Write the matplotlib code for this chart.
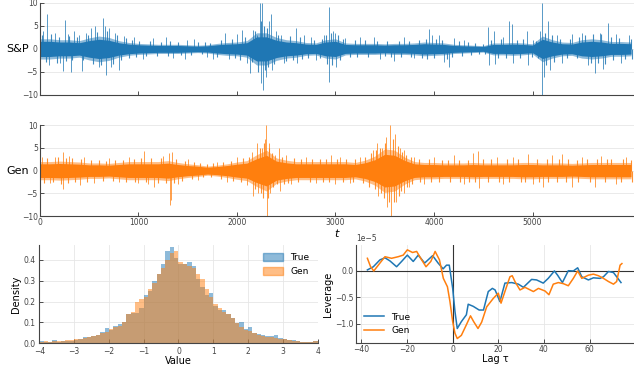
#!/usr/bin/env python3

import numpy as np
import matplotlib
matplotlib.use("Agg")
import matplotlib.pyplot as plt
from matplotlib.patches import Patch

BLUE = "#1f77b4"
ORANGE = "#ff7f0e"

# dense band half-width of each series, read every 100 steps (t = 0 .. 6000)
core_t = list(range(0, 6001, 100))
sp_core = [2.2, 2.2, 2.0, 2.0, 1.8, 2.4, 2.8, 2.5, 1.8, 1.4,
           1.2, 1.1, 1.0, 1.0, 1.0, 0.9, 0.8, 0.9, 1.2, 1.4,
           1.5, 1.8, 3.5, 3.5, 2.5, 2.0, 1.8, 1.4, 1.3, 2.0,
           2.2, 1.3, 1.2, 1.2, 1.2, 1.1, 1.2, 1.2, 1.3, 1.5,
           1.4, 1.3, 1.0, 0.9, 0.8, 0.7, 1.3, 1.3, 1.4, 1.3,
           1.1, 2.8, 2.0, 1.5, 1.4, 2.0, 2.2, 2.0, 1.6, 1.6, 1.5]
gen_core = [2.0, 2.0, 2.1, 2.0, 1.9, 1.7, 1.7, 1.6, 1.8, 2.0,
            2.0, 2.0, 2.0, 2.2, 1.8, 1.5, 1.3, 1.0, 1.2, 1.5,
            1.9, 2.2, 3.5, 4.5, 2.8, 2.3, 2.0, 2.0, 2.0, 2.0,
            2.0, 2.0, 1.8, 2.3, 3.2, 4.8, 4.5, 3.0, 2.0, 1.8,
            1.8, 1.7, 1.7, 1.7, 1.8, 1.7, 1.7, 1.7, 1.7, 1.8,
            1.8, 1.7, 1.7, 1.7, 1.6, 1.7, 1.8, 1.8, 1.8, 1.8, 1.8]

# isolated spikes (time, value)
sp_spike_t = [30, 71, 90, 150, 200, 230, 250, 280, 316, 350, 400, 426, 470, 520,
              560, 600, 643, 660, 670, 700, 720, 760, 802, 850, 950, 1050, 1150,
              1280, 1350, 1468, 1490, 1560, 1700, 1760, 1880, 1920, 2000, 2050,
              2100, 2130, 2160, 2200, 2230, 2245, 2255, 2265, 2290, 2320, 2345,
              2360, 2400, 2450, 2480, 2600, 2610, 2680, 2750, 2800, 2880, 2930,
              2935, 2970, 3000, 3010, 3100, 3250, 3390, 3450, 3593, 3700, 3800,
              3948, 3980, 4050, 4100, 4151, 4200, 4300, 4547, 4560, 4608, 4620,
              4700, 4760, 4790, 4800, 4943, 4950, 5000, 5080, 5095, 5100, 5115,
              5160, 5180, 5250, 5300, 5400, 5500, 5560, 5633, 5680, 5720, 5765,
              5850, 5900, 5980]
sp_spike_v = [4.0, 7.5, -3.5, 3.5, -3.0, -4.7, 6.2, 3.2, -5.0, 4.0, 3.0, -4.8, 3.5, 4.5,
              5.0, -4.0, 6.8, 5.0, -5.6, 4.5, -4.0, 3.5, -4.5, 2.8, 2.5, -2.2, 2.3,
              2.5, -2.0, -2.2, 2.0, 2.2, -1.8, -2.3, 3.4, -2.3, 3.2, 4.2,
              -3.0, -5.2, 4.2, 3.0, 10.0, -7.5, 10.0, -9.0, -6.0, 6.0, 7.5,
              -4.5, 4.0, 3.0, -3.0, 4.5, -3.0, 3.0, 2.5, -2.5, 3.0, 9.2,
              -7.3, 4.0, 3.5, -3.9, 2.3, 2.5, 2.5, -2.2, -2.7, 2.5, -2.0,
              4.3, 3.0, 3.0, -2.8, -4.0, 2.3, 2.0, 4.7, -3.5, 3.8, -3.3,
              2.5, 6.0, 5.5, -3.0, 4.0, -3.5, 2.0, 4.0, 10.0, -10.0, -6.0,
              6.0, -4.5, 3.0, -3.0, 3.2, 3.5, -3.5, -5.2, 3.5, -4.3, 5.7,
              3.3, -3.0, 3.0]
# smaller excursions along the edge of the band
sp_fringe_t = [20, 60, 110, 170, 190, 260, 300, 330, 380, 440, 490, 540, 580, 620,
               680, 740, 780, 820, 870, 900, 930, 980, 1010, 1080, 1120, 1190, 1230,
               1300, 1320, 1400, 1430, 1530, 1600, 1640, 1680, 1730, 1800, 1840,
               1950, 1980, 2030, 2080, 2150, 2180, 2210, 2240, 2270, 2280, 2300,
               2310, 2380, 2420, 2500, 2540, 2570, 2640, 2660, 2720, 2780, 2840,
               2860, 2900, 2910, 2950, 2960, 3030, 3050, 3080, 3150, 3200, 3220,
               3300, 3330, 3420, 3500, 3520, 3560, 3640, 3660, 3750, 3770, 3850,
               3880, 3920, 3930, 4000, 4020, 4080, 4130, 4180, 4250, 4280, 4350,
               4380, 4420, 4460, 4500, 4520, 4580, 4650, 4680, 4730, 4840, 4870,
               4900, 4990, 5040, 5060, 5130, 5140, 5200, 5220, 5280, 5350, 5380,
               5450, 5470, 5530, 5590, 5610, 5660, 5700, 5740, 5800, 5820, 5880,
               5940, 6000, 6010]
sp_fringe_v = [3.0, -2.8, 3.2, -3.0, 2.6, -2.6, 2.8, -2.5, 2.5, -2.4, 3.0, -3.2, 3.6, -3.5,
               3.8, -3.2, 3.0, -2.5, 2.3, -2.0, 2.0, -1.8, 1.8, -1.6, 1.7, -1.5, 1.6,
               -1.5, 1.8, 1.5, -1.4, -1.3, 1.4, -1.2, 1.5, 1.3, -1.8, 2.0,
               2.2, -2.0, -2.4, 2.6, -2.8, 4.0, -5.0, 6.0, 5.0, -4.5, 4.5,
               -4.0, -3.2, 3.0, -2.7, 2.8, -2.4, 2.5, -2.2, -2.0, 2.0, -2.0,
               2.2, 3.0, -3.2, 3.5, -3.5, 3.0, -2.5, 2.2, -1.8, 2.0, -1.8,
               1.9, -1.7, 1.8, -1.6, 1.8, -1.7, 1.8, -1.7, 1.8, -1.8, 2.0,
               -2.0, 2.2, -2.2, -2.0, 2.2, 2.0, -2.2, -1.8, 1.7, -1.6, 1.4,
               -1.4, 1.2, -1.1, 1.0, -1.0, 2.0, -2.0, 2.2, -2.0, 2.0, -2.0,
               2.2, -1.8, 1.8, -2.0, 3.5, -3.5, 3.0, -2.8, 2.2, -2.0, 2.2,
               -2.0, 2.5, 3.0, -3.0, 3.2, -3.0, 3.2, -3.2, 2.5, -2.5, 2.4,
               -2.3, 2.2, -2.2]

gen_spike_t = [20, 100, 150, 230, 235, 300, 403, 450, 550, 700, 800, 900, 1000, 1056,
               1100, 1160, 1250, 1310, 1320, 1330, 1340, 1400, 1500, 1600, 1800,
               1900, 2000, 2100, 2150, 2160, 2200, 2215, 2250, 2280, 2296, 2300,
               2320, 2340, 2390, 2430, 2440, 2500, 2550, 2700, 2800, 2950, 3000,
               3050, 3150, 3250, 3380, 3421, 3430, 3470, 3510, 3520, 3555, 3565,
               3600, 3615, 3650, 3697, 3700, 3750, 3800, 3900, 4000, 4200, 4300,
               4400, 4446, 4460, 4640, 4700, 4800, 4955, 5000, 5105, 5200, 5300,
               5400, 5500, 5635, 5700, 5850, 5950]
gen_spike_v = [3.0, -2.8, 3.0, 4.0, -4.0, 3.2, -3.2, 3.0, -2.8, 2.8, -2.5, 3.0, -2.8, 4.3,
               -3.0, -3.5, 3.2, 3.8, -7.5, -6.5, 4.0, -3.0, 2.5, -2.0, 2.0,
               -2.5, 3.0, -3.2, 4.0, -5.5, 6.1, -5.0, 5.0, 7.0, 10.0, -10.0,
               6.0, -5.0, 3.5, 4.9, -4.5, 3.5, -3.0, 3.0, -2.8, 3.5, -3.0,
               3.0, -2.8, 3.0, 4.5, 6.0, -5.5, 5.0, 7.5, -8.0, 10.0, -10.0,
               8.0, -7.0, 5.0, 4.5, -5.0, -3.5, 3.0, -3.0, 3.0, 3.5, -3.0,
               3.8, 4.3, -3.9, 3.0, -3.0, 3.0, 3.7, -3.0, -3.7, 3.5, 3.7,
               -3.6, 3.0, -3.5, 3.3, -3.0, 3.0]
gen_fringe_t = [40, 70, 130, 180, 210, 260, 280, 330, 360, 420, 480, 520, 600, 640,
                670, 740, 760, 840, 870, 950, 960, 1030, 1080, 1130, 1200, 1230,
                1280, 1360, 1380, 1440, 1470, 1540, 1560, 1620, 1660, 1700, 1740,
                1760, 1840, 1860, 1940, 1960, 2040, 2060, 2120, 2180, 2230, 2240,
                2260, 2270, 2310, 2330, 2360, 2370, 2410, 2460, 2480, 2520, 2580,
                2620, 2650, 2740, 2760, 2840, 2870, 2900, 2930, 3020, 3080, 3110,
                3180, 3200, 3280, 3300, 3340, 3360, 3400, 3410, 3450, 3460, 3490,
                3500, 3540, 3580, 3590, 3630, 3640, 3670, 3680, 3720, 3730, 3770,
                3780, 3850, 3860, 3950, 3970, 4050, 4080, 4140, 4160, 4250, 4260,
                4340, 4360, 4420, 4500, 4550, 4580, 4660, 4740, 4760, 4850, 4880,
                4920, 5050, 5070, 5150, 5160, 5250, 5270, 5340, 5360, 5450, 5460,
                5550, 5580, 5650, 5740, 5760, 5800, 5900, 5920, 6000, 6010]
gen_fringe_v = [-2.8, 2.8, -2.6, 3.0, -3.0, 2.8, -2.8, 2.7, -2.6, 2.6, -2.4, 2.4, 2.3, -2.3,
                2.2, -2.2, 2.3, 2.4, -2.5, 2.6, -2.6, 2.7, -2.6, 2.7, -2.7, 2.8,
                -2.8, -2.8, 2.5, -2.2, 2.2, -1.9, 1.9, 1.6, -1.4, 1.4, -1.5,
                1.6, -1.8, 1.9, 2.2, -2.2, -2.6, 2.7, 3.0, -4.0, 5.0, -5.0,
                -6.0, 6.0, -6.0, 5.0, 3.8, -3.6, -3.0, 3.0, -3.0, -2.8, 2.7,
                -2.6, 2.6, -2.6, 2.6, 2.6, -2.6, 2.6, -2.6, 2.6, -2.6, 2.6,
                -2.5, 2.5, -2.8, 3.0, -3.5, 3.8, -4.0, 4.5, 5.0, -5.0, -6.0,
                6.0, -7.0, 7.0, -7.0, 5.5, -5.5, -4.5, 4.0, 3.5, -3.5, 3.0,
                -3.0, 2.5, -2.6, 2.5, -2.5, -2.4, 2.4, 2.4, -2.4, 2.4, -2.4,
                2.4, -2.4, -2.5, 2.6, -2.5, 2.6, -2.5, 2.6, -2.5, 2.5, -2.5,
                -2.5, 2.5, -2.5, 2.5, -2.5, -2.4, 2.5, -2.5, 2.5, 2.4, -2.4,
                2.5, -2.5, 2.5, -2.5, 2.6, 2.5, -2.5, 2.6, 2.4, -2.4]

# histogram of returns, bin edges -4..4 (width 0.125), density
hist_edges = [-4 + 0.125 * i for i in range(65)]
hist_true = [0.010, 0.005, 0.008, 0.015, 0.008, 0.010, 0.010, 0.012,
             0.018, 0.020, 0.030, 0.030, 0.035, 0.040, 0.055, 0.075,
             0.065, 0.085, 0.090, 0.100, 0.140, 0.145, 0.145, 0.170,
             0.230, 0.250, 0.300, 0.330, 0.380, 0.440, 0.460, 0.410,
             0.380, 0.380, 0.390, 0.370, 0.310, 0.270, 0.230, 0.240,
             0.180, 0.160, 0.160, 0.140, 0.120, 0.095, 0.100, 0.070,
             0.080, 0.050, 0.045, 0.040, 0.035, 0.035, 0.040, 0.025,
             0.020, 0.015, 0.015, 0.010, 0.008, 0.005, 0.005, 0.010]
hist_gen = [0.008, 0.010, 0.006, 0.010, 0.010, 0.012, 0.015, 0.015,
            0.020, 0.022, 0.025, 0.030, 0.035, 0.040, 0.050, 0.055,
            0.070, 0.080, 0.085, 0.100, 0.140, 0.150, 0.200, 0.210,
            0.220, 0.260, 0.290, 0.330, 0.360, 0.400, 0.430, 0.440,
            0.390, 0.380, 0.370, 0.360, 0.330, 0.310, 0.260, 0.220,
            0.190, 0.170, 0.150, 0.140, 0.120, 0.095, 0.080, 0.065,
            0.060, 0.050, 0.040, 0.035, 0.030, 0.030, 0.025, 0.020,
            0.020, 0.015, 0.010, 0.010, 0.008, 0.008, 0.006, 0.010]

# leverage function, units of 1e-5
lev_true_lag = [-37.4, -34.8, -31.9, -29.7, -27.5, -24.6, -22.4, -19.9, -17.3, -15.1,
                -12.3, -8.8, -6.4, -4.2, -2.7, -1.5, 0, 1, 2, 3.8, 6, 6.8, 9, 11.6,
                13.5, 15.6, 17.4, 18.6, 20.7, 22.9, 25.9, 28.8, 31, 34.6, 36.8, 39.7,
                41.9, 44.6, 46.0, 48.1, 50.7, 52.9, 54.8, 56.6, 59.5, 61.7, 64.6,
                66.1, 68.3, 70.5, 71.9, 73.8]
lev_true = [0.02, 0.08, 0.21, 0.25, 0.19, 0.08, 0.18, 0.30, 0.18, 0.30,
            0.15, 0.29, 0.15, 0.04, 0.11, 0.11, -0.33, -0.77, -1.09, -0.96, -0.83, -0.63, -0.67, -0.74,
            -0.74, -0.39, -0.33, -0.36, -0.58, -0.23, -0.22, -0.25, -0.31, -0.16, -0.17, -0.23,
            -0.14, 0.0, -0.08, -0.22, 0.005, 0.0, 0.06, -0.11, -0.17, -0.13, -0.14,
            -0.11, -0.01, -0.03, -0.11, -0.22]
lev_gen_lag = [-37.4, -36, -34.6, -31.9, -29.7, -26.8, -23.9, -21.7, -19.9, -17.6,
               -15.8, -13.6, -11.7, -9.6, -7.7, -5.8, -4.1, -2.3, -1.2, 0, 1, 2, 3.8,
               6, 7.8, 9.2, 11.1, 12.7, 14.9, 17.8, 20.0, 21.2, 22.9, 25.1, 26.1,
               27.3, 29.5, 31.7, 35.4, 37.6, 40.5, 42.2, 44.1, 46.3, 48.5, 50.7,
               52.9, 54.8, 56.6, 59.5, 61.7, 63.9, 66.1, 68.3, 70.5, 71.9, 73.4, 74.2]
lev_gen = [0.24, 0.08, 0.0, 0.15, 0.27, 0.24, 0.27, 0.30, 0.40, 0.35,
           0.37, 0.21, 0.08, 0.18, 0.37, 0.21, -0.14, -0.30, -0.58, -0.96, -1.18, -1.28, -1.22,
           -1.02, -0.85, -0.96, -1.09, -0.97, -0.68, -0.52, -0.42, -0.61, -0.39, -0.11, -0.09,
           -0.20, -0.36, -0.31, -0.39, -0.33, -0.38, -0.45, -0.25, -0.22, -0.24, -0.28,
           -0.14, 0.0, -0.14, -0.08, -0.06, -0.09, -0.14, -0.20, -0.25, -0.20, 0.11, 0.14]

TICK_KW = dict(direction="in", length=3, width=0.6, labelsize=5.5, pad=1.5,
               colors="#333333", labelcolor="#444444")


def style_axes(ax):
    for s in ("top", "right"):
        ax.spines[s].set_visible(False)
    for s in ("left", "bottom"):
        ax.spines[s].set_color("#444444")
        ax.spines[s].set_linewidth(0.8)
    ax.tick_params(**TICK_KW)
    ax.set_axisbelow(True)


def plot_series(ax, core, spike_t, spike_v, fringe_t, fringe_v, color, label):
    core = np.array(core)
    ax.fill_between(core_t, -core, core, color=color, alpha=0.5, lw=0)
    ax.fill_between(core_t, -0.75 * core, 0.75 * core, color=color, lw=0)
    ax.vlines(fringe_t, 0, fringe_v, color=color, lw=0.8, alpha=0.85)
    ax.vlines(spike_t, 0, spike_v, color=color, lw=0.7, alpha=0.75)
    ax.set_xlim(0, 6030)
    ax.set_ylim(-10, 10)
    ax.set_yticks([-10, -5, 0, 5, 10])
    ax.set_xticks([1000, 2000, 3000, 4000, 5000])
    ax.grid(axis="y", color="#e6e6e6", lw=0.6)
    style_axes(ax)
    ax.set_ylabel(label, rotation=0, fontsize=8, ha="center", va="center")
    ax.yaxis.set_label_coords(-0.038, 0.5)


def main():
    fig = plt.figure(figsize=(6.34, 3.65), dpi=100)

    ax1 = fig.add_axes([0.063, 0.740, 0.937, 0.252])
    plot_series(ax1, sp_core, sp_spike_t, sp_spike_v, sp_fringe_t, sp_fringe_v,
                BLUE, "S&P")
    ax1.tick_params(labelbottom=False)

    ax2 = fig.add_axes([0.063, 0.408, 0.937, 0.249])
    plot_series(ax2, gen_core, gen_spike_t, gen_spike_v, gen_fringe_t, gen_fringe_v,
                ORANGE, "Gen")
    ax2.set_xticks([0, 1000, 2000, 3000, 4000, 5000])
    ax2.set_xlabel("$t$", fontsize=8, labelpad=0)

    # histogram
    ax3 = fig.add_axes([0.062, 0.0595, 0.439, 0.269])
    ax3.stairs(hist_true, hist_edges, fill=True, color=BLUE, alpha=0.5, lw=0)
    ax3.stairs(hist_gen, hist_edges, fill=True, color=ORANGE, alpha=0.5, lw=0)
    ax3.set_xlim(-4, 4)
    ax3.set_ylim(0, 0.47)
    ax3.set_xticks(range(-4, 5))
    ax3.set_yticks([0.0, 0.1, 0.2, 0.3, 0.4])
    ax3.grid(color="#e6e6e6", lw=0.6)
    style_axes(ax3)
    ax3.tick_params(axis="x", pad=2.5)
    ax3.tick_params(axis="y", pad=2.5)
    ax3.set_xlabel("Value", fontsize=7, labelpad=0)
    ax3.set_ylabel("Density", fontsize=7, labelpad=2)
    handles = [Patch(color=BLUE, alpha=0.5, label="True"),
               Patch(color=ORANGE, alpha=0.5, label="Gen")]
    ax3.legend(handles=handles, loc="upper right", frameon=False, fontsize=6.5,
               handlelength=2.2, handleheight=1.0)

    # leverage
    ax4 = fig.add_axes([0.5615, 0.0595, 0.4385, 0.269])
    ax4.axhline(0, color="#333333", lw=0.8)
    ax4.axvline(0, color="#333333", lw=0.8)
    ax4.plot(lev_true_lag, np.array(lev_true) * 1e-5, color=BLUE, lw=1.1, label="True")
    ax4.plot(lev_gen_lag, np.array(lev_gen) * 1e-5, color=ORANGE, lw=1.1, label="Gen")
    ax4.set_xlim(-42.4, 79.5)
    ax4.set_ylim(-1.37e-5, 0.49e-5)
    ax4.set_xticks([-40, -20, 0, 20, 40, 60])
    ax4.set_yticks([-1e-5, -0.5e-5, 0])
    ax4.grid(color="#e6e6e6", lw=0.6)
    style_axes(ax4)
    ax4.yaxis.get_offset_text().set_fontsize(5.5)
    ax4.set_xlabel("Lag τ", fontsize=7, labelpad=0)
    ax4.set_ylabel("Leverage", fontsize=7, labelpad=2)
    ax4.legend(loc="lower left", frameon=False, fontsize=6.5, handlelength=2.2)

    fig.savefig("out.png", dpi=100)
    plt.close(fig)


if __name__ == "__main__":
    main()
